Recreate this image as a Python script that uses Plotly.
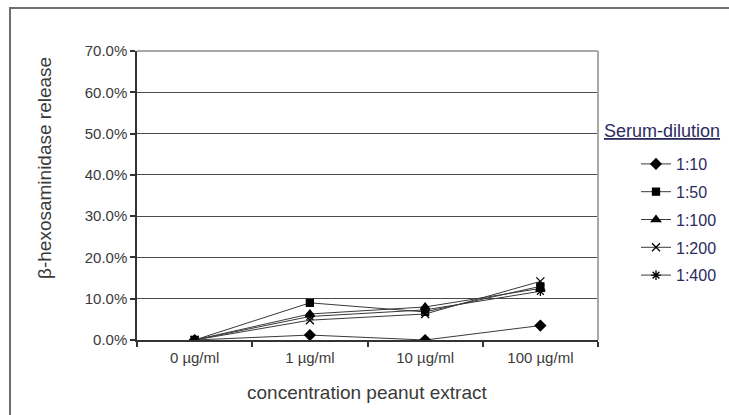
import plotly.graph_objects as go

categories = ["0 µg/ml", "1 µg/ml", "10 µg/ml", "100 µg/ml"]
series_names = ["1:10", "1:50", "1:100", "1:200", "1:400"]
s_1_10 = [0.000, 0.012, 0.000, 0.035]
s_1_50 = [0.000, 0.090, 0.068, 0.130]
s_1_100 = [0.000, 0.063, 0.080, 0.125]
s_1_200 = [0.000, 0.048, 0.063, 0.142]
s_1_400 = [0.000, 0.057, 0.073, 0.118]
series_values = [s_1_10, s_1_50, s_1_100, s_1_200, s_1_400]
y_ticks = [0.0, 0.1, 0.2, 0.3, 0.4, 0.5, 0.6, 0.7]

symbols = ["diamond", "square", "triangle-up", "x-thin-open", "asterisk-open"]
sizes = [8, 7, 8, 8, 8]

W, H = 729, 415
L, R, T, B = 137, 598, 51, 340

FONT = "Arial, 'Liberation Sans', sans-serif"

fig = go.Figure()
for i, (name, vals) in enumerate(zip(series_names, series_values)):
    fig.add_trace(go.Scatter(
        x=categories, y=vals, name=name, mode="lines+markers",
        legendgroup=name,
        line=dict(color="#3a3a3a", width=1),
        marker=dict(symbol=symbols[i], size=sizes[i], color="black",
                    line=dict(color="black", width=1.3)),
    ))

def px_x(p):
    return (p - L) / (R - L)

def px_y(p):
    return (B - p) / (B - T)

shapes = [
    # outer chart border
    dict(type="rect", xref="paper", yref="paper",
         x0=px_x(10), x1=px_x(760), y0=px_y(440), y1=px_y(8),
         line=dict(color="#6e6e6e", width=2), layer="below"),
    # plot area top and right border
    dict(type="line", xref="paper", yref="paper", x0=0, x1=1, y0=1, y1=1,
         line=dict(color="#a8a8a8", width=2), layer="above"),
    dict(type="line", xref="paper", yref="paper", x0=1, x1=1, y0=0, y1=1,
         line=dict(color="#a8a8a8", width=2), layer="above"),
]

annotations = [
    dict(text="β-hexosaminidase release", xref="paper", yref="paper",
         x=px_x(44), y=px_y(168), textangle=-90, showarrow=False,
         xanchor="center", yanchor="middle",
         font=dict(family=FONT, size=19, color="#3a3a3a")),
    dict(text="concentration peanut extract", xref="paper", yref="paper",
         x=px_x(367), y=px_y(392), showarrow=False,
         xanchor="center", yanchor="middle",
         font=dict(family=FONT, size=19, color="#3a3a3a")),
    dict(text="<u>Serum-dilution</u>", xref="paper", yref="paper",
         x=px_x(602), y=px_y(131), showarrow=False,
         xanchor="left", yanchor="middle",
         font=dict(family=FONT, size=18, color="#2b2b5e")),
]

fig.update_layout(
    width=W, height=H,
    margin=dict(l=L, r=W - R, t=T, b=H - B, autoexpand=False),
    paper_bgcolor="white", plot_bgcolor="white",
    font=dict(family=FONT, color="#3a3a3a"),
    showlegend=True,
    legend=dict(
        x=px_x(636), y=px_y(147), xanchor="left", yanchor="top",
        font=dict(family=FONT, size=16, color="#2b2b5e"),
        bgcolor="rgba(0,0,0,0)", tracegroupgap=4,
        itemwidth=30,
    ),
    xaxis=dict(
        type="category", range=[-0.5, 3.5],
        showline=True, linecolor="#333333", linewidth=1.5,
        ticks="outside", ticklen=5, tickcolor="#333333", tickwidth=1.5,
        tickson="boundaries", showgrid=False, ticklabelstandoff=3,
        tickfont=dict(family=FONT, size=15, color="#3a3a3a"),
    ),
    yaxis=dict(
        range=[0, 0.7], tickvals=y_ticks, tickformat=".1%",
        showline=True, linecolor="#333333", linewidth=1.5,
        ticks="outside", ticklen=5, tickcolor="#333333", tickwidth=1.5,
        showgrid=True, gridcolor="#4a4a4a", gridwidth=1.2,
        zeroline=False,
        tickfont=dict(family=FONT, size=15, color="#3a3a3a"),
    ),
    shapes=shapes,
    annotations=annotations,
)

fig.write_html("out.html")
